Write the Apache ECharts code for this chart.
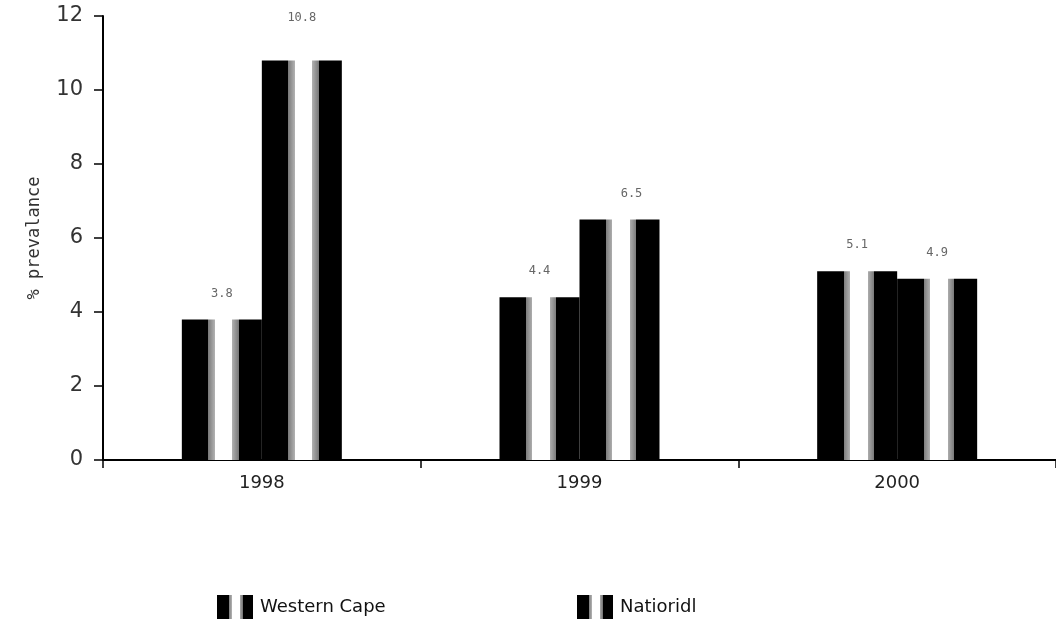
<!DOCTYPE html>
<html><head><meta charset="utf-8">
<script src="https://cdn.jsdelivr.net/npm/echarts@6/dist/echarts.min.js"></script>
<style>html,body{margin:0;padding:0;background:#fff}#c{width:1056px;height:626px}</style>
</head><body><div id="c"></div>
<script>
var categories = ['1998', '1999', '2000'];
var westernCape = [3.8, 4.4, 5.1];
var national = [10.8, 6.5, 4.9];
var seriesNames = ['Western Cape', 'Natioridl'];
var yTicks = [0, 2, 4, 6, 8, 10, 12];

function stripe() {
  return {
    type: 'linear', x: 0, y: 0, x2: 1, y2: 0,
    colorStops: [
      {offset: 0, color: '#000'}, {offset: 0.33, color: '#000'},
      {offset: 0.33, color: '#7a7a7a'}, {offset: 0.41, color: '#b0b0b0'},
      {offset: 0.41, color: '#fff'}, {offset: 0.63, color: '#fff'},
      {offset: 0.63, color: '#b0b0b0'}, {offset: 0.71, color: '#7a7a7a'},
      {offset: 0.71, color: '#000'}, {offset: 1, color: '#000'}
    ]
  };
}
var labelStyle = {show: true, position: 'top', distance: 20, fontFamily: 'DejaVu Sans Mono', fontSize: 12, color: '#666'};
function items(vals, offsets) {
  return vals.map(function (v, i) {
    var o = {value: v};
    if (offsets[i]) o.label = {offset: offsets[i]};
    return o;
  });
}
var legendText = {fontFamily: 'DejaVu Sans', fontSize: 18, color: '#111', padding: [0, 0, 0, 2]};
var chart = echarts.init(document.getElementById('c'), null, {renderer: 'canvas'});
chart.setOption({
  animation: false,
  grid: {left: 103, right: 0, top: 16, bottom: 166},
  legend: [
    {data: [{name: seriesNames[0], icon: 'rect'}], left: 217, top: 595, padding: 0, itemWidth: 36, itemHeight: 24, textStyle: legendText},
    {data: [{name: seriesNames[1], icon: 'rect'}], left: 577, top: 595, padding: 0, itemWidth: 36, itemHeight: 24, textStyle: legendText}
  ],
  xAxis: {
    type: 'category', data: categories,
    axisLine: {lineStyle: {color: '#000', width: 2}},
    axisTick: {show: true, length: 8, lineStyle: {color: '#000', width: 1.5}},
    axisLabel: {fontFamily: 'DejaVu Sans', fontSize: 18, color: '#222', margin: 14}
  },
  yAxis: {
    type: 'value', min: 0, max: 12, interval: 2,
    name: '% prevalance', nameLocation: 'middle', nameGap: 60,
    nameTextStyle: {fontFamily: 'DejaVu Sans Mono', fontSize: 17, color: '#333'},
    axisLine: {show: true, lineStyle: {color: '#000', width: 2}},
    axisTick: {show: true, length: 9, lineStyle: {color: '#000', width: 1.5}},
    splitLine: {show: false},
    axisLabel: {fontFamily: 'DejaVu Sans', fontSize: 21, color: '#333', margin: 20,
      formatter: function (v) { return yTicks.indexOf(v) >= 0 ? String(v) : ''; }}
  },
  series: [
    {name: seriesNames[0], type: 'bar', data: items(westernCape, [null, null, null]),
     barWidth: 80, barGap: '0%', itemStyle: {color: stripe()}, label: labelStyle},
    {name: seriesNames[1], type: 'bar', data: items(national, [[0, -17], [12, 0], null]),
     barWidth: 80, barGap: '0%', itemStyle: {color: stripe()}, label: labelStyle}
  ]
});
</script></body></html>
